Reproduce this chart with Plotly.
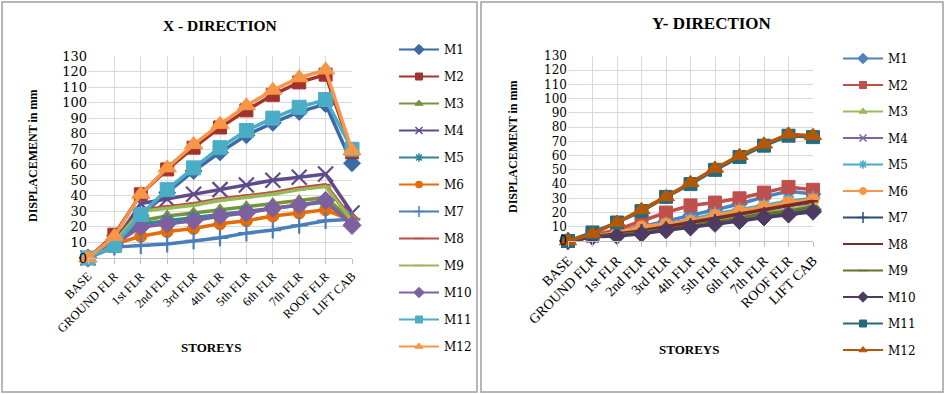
import plotly.graph_objects as go

W, H = 946, 394

storeys = ["BASE", "GROUND FLR", "1st FLR", "2nd FLR", "3rd FLR", "4th FLR",
           "5th FLR", "6th FLR", "7th FLR", "ROOF FLR", "LIFT CAB"]
series_names = ["M1", "M2", "M3", "M4", "M5", "M6", "M7", "M8", "M9", "M10", "M11", "M12"]

# X-direction displacement (mm)
x_m1 = [0, 8, 27, 42, 56, 68, 79, 87, 94, 99, 61]
x_m2 = [0, 15, 41, 57, 71, 84, 95, 105, 113, 118, 68]
x_m3 = [0, 10, 24, 27, 29, 31, 33, 35, 37, 39, 24]
x_m4 = [0, 10, 35, 38, 41, 44, 47, 50, 52, 54, 29]
x_m5 = [0, 9, 22, 24, 26, 28, 30, 32, 34, 36, 22]
x_m6 = [0, 9, 14, 17, 19, 22, 24, 27, 29, 31, 24]
x_m7 = [0, 7, 8, 9, 11, 13, 16, 18, 21, 24, 25]
x_m8 = [0, 10, 31, 33, 35, 38, 40, 42, 45, 47, 25]
x_m9 = [0, 10, 30, 32, 34, 37, 39, 41, 44, 46, 24]
x_m10 = [0, 9, 20, 22, 24, 27, 29, 32, 34, 37, 21]
x_m11 = [0, 8, 28, 44, 58, 71, 82, 90, 97, 102, 70]
x_m12 = [0, 14, 41, 58, 73, 86, 98, 108, 116, 121, 69]

# Y-direction displacement (mm)
y_m1 = [0, 3, 7, 10, 14, 18, 22, 26, 31, 35, 33]
y_m2 = [0, 4, 8, 14, 20, 25, 27, 30, 34, 38, 36]
y_m3 = [0, 3, 5, 7, 9, 11, 14, 17, 20, 22, 25]
y_m4 = [0, 3, 6, 8, 10, 13, 16, 19, 22, 25, 27]
y_m5 = [0, 3, 6, 9, 12, 15, 19, 22, 25, 28, 30]
y_m6 = [0, 3, 6, 10, 12, 14, 18, 21, 24, 27, 29]
y_m7 = [0, 3, 4, 6, 8, 10, 13, 15, 18, 20, 22]
y_m8 = [0, 3, 5, 7, 10, 13, 16, 19, 22, 25, 28]
y_m9 = [0, 3, 4, 6, 8, 10, 13, 16, 19, 21, 24]
y_m10 = [0, 3, 3.5, 5, 7.5, 9.5, 12, 14, 16.5, 18.5, 20.5]
y_m11 = [0, 6, 13, 21, 31, 40, 50, 59, 67, 74, 73]
y_m12 = [0, 5, 13, 22, 31, 41, 51, 60, 68, 75, 74]

x_series = [x_m1, x_m2, x_m3, x_m4, x_m5, x_m6, x_m7, x_m8, x_m9, x_m10, x_m11, x_m12]
y_series = [y_m1, y_m2, y_m3, y_m4, y_m5, y_m6, y_m7, y_m8, y_m9, y_m10, y_m11, y_m12]

y_ticks = list(range(0, 131, 10))

left_colors = ["#3B6AA6", "#A3322F", "#77933C", "#5F4A8B", "#31859C", "#E46C0A",
               "#4A7EBB", "#BE4B48", "#98B954", "#7D60A0", "#4BACC6", "#F79646"]
right_colors = ["#4F81BD", "#C0504D", "#9BBB59", "#8064A2", "#4BACC6", "#F79646",
                "#2C4D75", "#772C2A", "#5F7530", "#4D3B62", "#276A7C", "#B65708"]

symbols = ["diamond", "square", "triangle-up", "x-thin-open", "asterisk-open", "circle",
           "cross-thin-open", "line-ew-open", "line-ew-open", "diamond", "square", "triangle-up"]
left_sizes = [13, 13, 12, 15, 12, 12, 12, 7, 9, 14, 14, 16]
right_sizes = [12, 13, 12, 12, 12, 12, 12, 7, 9, 13, 13, 15]
leg_sizes = [8, 7, 7, 7, 7, 7, 8, 6, 7, 8, 7, 7]

SERIF = "Liberation Serif"
SLAB = "DejaVu Serif"


def px_x(p):
    return p / W


def px_y(p):
    return 1 - p / H


fig = go.Figure()

panels = [
    dict(data=x_series, colors=left_colors, sizes=left_sizes, xa="x", ya="y", leg="legend"),
    dict(data=y_series, colors=right_colors, sizes=right_sizes, xa="x2", ya="y2", leg="legend2"),
]

for pi, p in enumerate(panels):
    for i, name in enumerate(series_names):
        c = p["colors"][i]
        open_sym = symbols[i].endswith("open")
        fig.add_trace(go.Scatter(
            x=storeys, y=p["data"][i], name=name, mode="lines+markers",
            xaxis=p["xa"], yaxis=p["ya"], showlegend=False, cliponaxis=False,
            line=dict(color=c, width=3.5),
            marker=dict(symbol=symbols[i], size=p["sizes"][i], color=c,
                        line=dict(color=c, width=2.2 if open_sym else 1)),
        ))
    for i, name in enumerate(series_names):
        c = p["colors"][i]
        open_sym = symbols[i].endswith("open")
        fig.add_trace(go.Scatter(
            x=[None], y=[None], name=name, mode="lines+markers",
            xaxis=p["xa"], yaxis=p["ya"], legend=p["leg"], legendgroup=f"{pi}{name}",
            line=dict(color=c, width=2),
            marker=dict(symbol=symbols[i], size=leg_sizes[i], color=c,
                        line=dict(color=c, width=1.5 if open_sym else 1)),
        ))

grid = "#D9D9D9"
xcommon = dict(type="category", categoryorder="array", categoryarray=storeys,
               range=[0, 10], showgrid=True, gridcolor=grid, gridwidth=1,
               showline=True, linecolor="#BFBFBF", ticks="outside", ticklen=5,
               tickcolor="#BFBFBF", tickangle=-45, zeroline=False, fixedrange=True,
               automargin=False)
ycommon = dict(range=[0, 130], tickvals=y_ticks, showgrid=True, gridcolor=grid,
               gridwidth=1, zeroline=False, showline=False, ticks="", fixedrange=True,
               automargin=False)

fig.update_layout(
    width=W, height=H, margin=dict(l=0, r=0, t=0, b=0, autoexpand=False),
    paper_bgcolor="white", plot_bgcolor="white", showlegend=True,
    xaxis=dict(xcommon, domain=[px_x(88), px_x(352)], anchor="y",
               tickfont=dict(family=SERIF, size=12.5, color="black")),
    yaxis=dict(ycommon, domain=[px_y(258), px_y(56)], anchor="x",
               tickfont=dict(family=SLAB, size=13, color="black")),
    xaxis2=dict(xcommon, domain=[px_x(568), px_x(813)], anchor="y2",
                tickfont=dict(family=SERIF, size=14, color="black")),
    yaxis2=dict(ycommon, domain=[px_y(241), px_y(56)], anchor="x2",
                tickfont=dict(family=SLAB, size=12, color="black")),
    legend=dict(x=px_x(394), y=px_y(35), xanchor="left", yanchor="top",
                font=dict(family=SLAB, size=12, color="black"), itemwidth=40,
                tracegroupgap=8, bgcolor="rgba(0,0,0,0)", traceorder="grouped"),
    legend2=dict(x=px_x(838), y=px_y(44), xanchor="left", yanchor="top",
                 font=dict(family=SLAB, size=12, color="black"), itemwidth=40,
                 tracegroupgap=7.5, bgcolor="rgba(0,0,0,0)", traceorder="grouped"),
    shapes=[
        dict(type="rect", xref="paper", yref="paper", x0=px_x(2), x1=px_x(477),
             y0=px_y(392), y1=px_y(2), line=dict(color="#A0A0A0", width=1.5)),
        dict(type="rect", xref="paper", yref="paper", x0=px_x(481), x1=px_x(943),
             y0=px_y(392), y1=px_y(2), line=dict(color="#A0A0A0", width=1.5)),
    ],
    annotations=[
        dict(text="<b>X - DIRECTION</b>", x=px_x(220), y=px_y(25), xref="paper", yref="paper",
             showarrow=False, xanchor="center", yanchor="middle",
             font=dict(family=SERIF, size=15.5, color="black")),
        dict(text="<b>Y- DIRECTION</b>", x=px_x(712), y=px_y(23), xref="paper", yref="paper",
             showarrow=False, xanchor="center", yanchor="middle",
             font=dict(family=SERIF, size=17, color="black")),
        dict(text="<b>DISPLACEMENT in mm</b>", x=px_x(33), y=px_y(156), xref="paper", yref="paper",
             showarrow=False, xanchor="center", yanchor="middle", textangle=-90,
             font=dict(family=SERIF, size=12, color="black")),
        dict(text="<b>DISPLACEMENT in mm</b>", x=px_x(513), y=px_y(147), xref="paper", yref="paper",
             showarrow=False, xanchor="center", yanchor="middle", textangle=-90,
             font=dict(family=SERIF, size=12, color="black")),
        dict(text="<b>STOREYS</b>", x=px_x(211), y=px_y(347), xref="paper", yref="paper",
             showarrow=False, xanchor="center", yanchor="middle",
             font=dict(family=SERIF, size=13, color="black")),
        dict(text="<b>STOREYS</b>", x=px_x(689), y=px_y(349), xref="paper", yref="paper",
             showarrow=False, xanchor="center", yanchor="middle",
             font=dict(family=SERIF, size=13, color="black")),
    ],
)

fig.write_html("out.html")
